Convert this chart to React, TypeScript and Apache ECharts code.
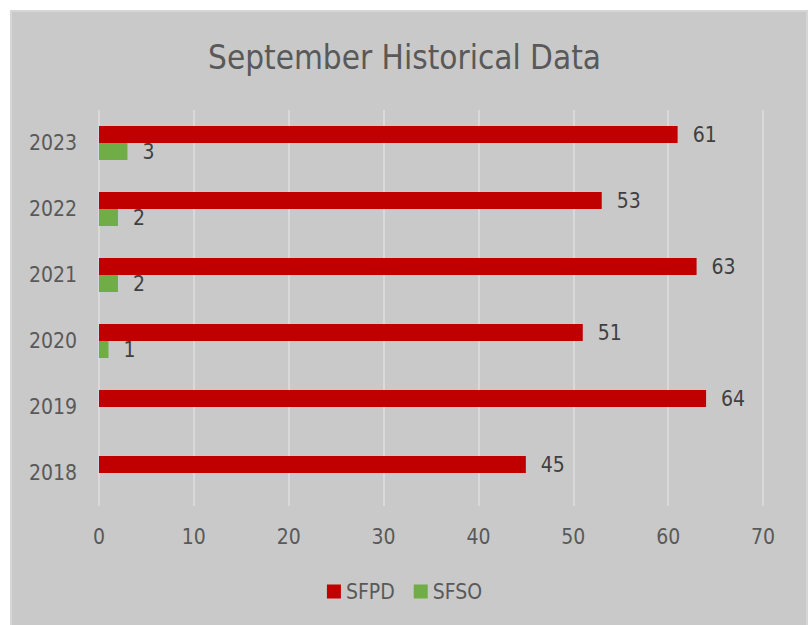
import React, { useEffect, useRef } from "react";
import * as echarts from "echarts";

const years = ["2018", "2019", "2020", "2021", "2022", "2023"];
const sfpd = [45, 64, 51, 63, 53, 61];
const sfso = [null, null, 1, 2, 2, 3];
const xTicks = [0, 10, 20, 30, 40, 50, 60, 70];

const FONT = "'Liberation Sans Narrow', 'DejaVu Sans Condensed', 'Open Sans', sans-serif";

export default function App() {
  const ref = useRef<HTMLDivElement>(null);
  useEffect(() => {
    if (!ref.current) return;
    const chart = echarts.init(ref.current, null, { renderer: "svg" });
    chart.setOption({
      animation: false,
      backgroundColor: "transparent",
      textStyle: { fontFamily: FONT },
      title: {
        text: "September Historical Data",
        left: "center",
        top: 36,
        textStyle: { fontFamily: FONT, fontSize: 33, fontWeight: "normal", color: "#595959" },
      },
      legend: {
        top: 576,
        left: "center",
        itemWidth: 14,
        itemHeight: 14,
        itemGap: 19,
        icon: "rect",
        textStyle: { fontFamily: FONT, fontSize: 21, color: "#595959" },
        data: ["SFPD", "SFSO"],
      },
      grid: { left: 99, right: 46, top: 110, bottom: 119, containLabel: false },
      xAxis: {
        type: "value",
        min: xTicks[0],
        max: xTicks[xTicks.length - 1],
        interval: 10,
        axisLine: { show: false },
        axisTick: { show: false },
        axisLabel: { fontFamily: FONT, fontSize: 21, color: "#595959", margin: 20 },
        splitLine: { show: true, lineStyle: { color: "#d9d9d9", width: 2 } },
      },
      yAxis: {
        type: "category",
        data: years,
        axisLine: { show: false },
        axisTick: { show: false },
        axisLabel: { fontFamily: FONT, fontSize: 21, color: "#595959", margin: 22 },
        splitLine: { show: false },
      },
      series: [
        {
          name: "SFPD",
          type: "bar",
          data: sfpd,
          barWidth: 17,
          barGap: "0%",
          itemStyle: { color: "#c00000" },
          label: {
            show: true,
            position: "right",
            distance: 15,
            fontFamily: FONT,
            fontSize: 21,
            color: "#404040",
          },
        },
        {
          name: "SFSO",
          type: "bar",
          data: sfso,
          barWidth: 17,
          barGap: "0%",
          itemStyle: { color: "#70ad47" },
          label: {
            show: true,
            position: "right",
            distance: 15,
            fontFamily: FONT,
            fontSize: 21,
            color: "#404040",
          },
        },
      ],
    });
    return () => chart.dispose();
  }, []);
  return (
    <div style={{ position: "fixed", left: 0, top: 0, width: 809, height: 625, background: "#ffffff", overflow: "hidden" }}>
      <div
        style={{
          position: "absolute",
          left: 10,
          top: 10,
          width: 794,
          height: 640,
          background: "#c9c9c9",
          border: "2px solid #d6d6d6",
          boxSizing: "content-box",
        }}
      />
      <div ref={ref} style={{ position: "absolute", left: 0, top: 0, width: 809, height: 625 }} />
    </div>
  );
}
